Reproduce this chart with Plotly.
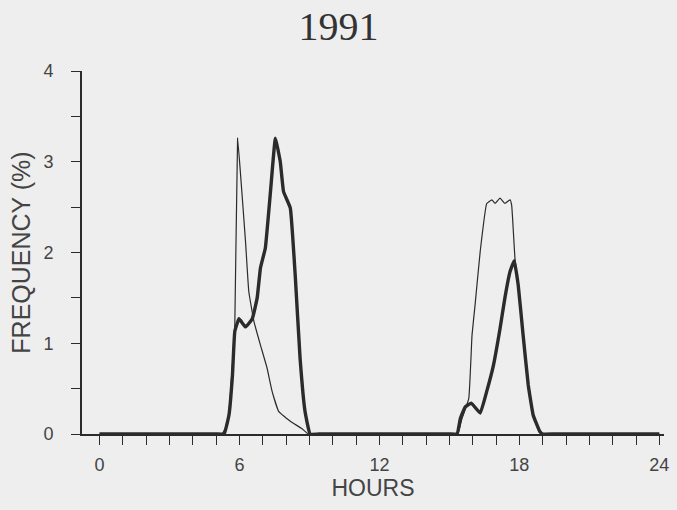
import plotly.graph_objects as go

# hours of day, 1991 survey
thin_hours = [0, 1, 2, 3, 4, 5, 5.25, 5.5, 5.8, 5.92, 6.05, 6.26, 6.4, 6.62, 6.9, 7.18, 7.4, 7.68, 8.18, 8.67, 8.95,
              9.5, 10, 11, 12, 13, 14, 15, 15.3, 15.4, 15.54, 15.83, 15.97, 16.1, 16.32, 16.6, 16.82, 16.96,
              17.17, 17.38, 17.6, 17.67, 17.81, 17.95, 18.16, 18.38, 18.59, 18.87, 19.0, 19.5, 20, 21, 22, 23, 24]
thin_freq = [0, 0, 0, 0, 0, 0, 0, 0.12, 1.2, 3.26, 2.85, 2.12, 1.57, 1.24, 0.98, 0.73, 0.47, 0.25, 0.14, 0.06, 0,
             0, 0, 0, 0, 0, 0, 0, 0, 0.03, 0.17, 0.39, 1.09, 1.42, 2.01, 2.54, 2.58, 2.54,
             2.6, 2.54, 2.58, 2.52, 1.94, 1.64, 1.09, 0.54, 0.21, 0.03, 0, 0, 0, 0, 0, 0, 0]

thick_hours = [0, 1, 2, 3, 4, 5, 5.34, 5.55, 5.7, 5.8, 5.98, 6.26, 6.55, 6.76, 6.9, 7.11, 7.33, 7.54, 7.75, 7.89,
               8.18, 8.39, 8.6, 8.81, 9.03, 9.5, 10, 11, 12, 13, 14, 15,
               15.33, 15.47, 15.68, 15.94, 16.32, 16.6, 16.89, 17.17, 17.38, 17.6, 17.78, 17.95,
               18.16, 18.38, 18.59, 18.87, 19.0, 19.5, 20, 21, 22, 23, 24]
thick_freq = [0, 0, 0, 0, 0, 0, 0, 0.21, 0.65, 1.13, 1.27, 1.18, 1.27, 1.5, 1.83, 2.05, 2.67, 3.26, 3.0, 2.67,
              2.49, 1.75, 0.83, 0.25, 0, 0, 0, 0, 0, 0, 0, 0,
              0, 0.17, 0.3, 0.34, 0.23, 0.47, 0.76, 1.16, 1.5, 1.79, 1.91, 1.64,
              1.09, 0.54, 0.21, 0.03, 0, 0, 0, 0, 0, 0, 0]

ink = "#2b2b2b"
paper = "#eeeeee"

fig = go.Figure()
fig.add_trace(go.Scatter(x=thin_hours, y=thin_freq, mode="lines",
                         line=dict(color=ink, width=1.2, shape="spline", smoothing=0.3),
                         showlegend=False))
fig.add_trace(go.Scatter(x=thick_hours, y=thick_freq, mode="lines",
                         line=dict(color=ink, width=3.4, shape="spline", smoothing=0.3),
                         showlegend=False))

fig.update_layout(
    width=677, height=510,
    margin=dict(l=82, r=8, t=71, b=76),
    paper_bgcolor=paper, plot_bgcolor=paper,
    title=dict(text="1991", x=0.5, xanchor="center", y=0.95, yanchor="middle",
               font=dict(family="Liberation Serif", size=40, color="#333333")),
    font=dict(family="Liberation Sans", size=18, color="#444444"),
)
fig.update_xaxes(
    range=[-0.75, 24.2], tickmode="linear", tick0=0, dtick=6,
    ticks="outside", ticklen=9, tickwidth=1.3, tickcolor=ink,
    minor=dict(dtick=1, ticks="outside", ticklen=9, tickwidth=1.3, tickcolor=ink),
    showline=True, linecolor=ink, linewidth=1.6,
    showgrid=False, zeroline=False, ticklabelstandoff=5,
    title=dict(text="HOURS", font=dict(size=23), standoff=5),
)
fig.update_yaxes(
    range=[0, 4], tickmode="linear", tick0=0, dtick=1,
    ticks="outside", ticklen=9, tickwidth=1.3, tickcolor=ink,
    minor=dict(dtick=0.5, ticks="outside", ticklen=9, tickwidth=1.3, tickcolor=ink),
    showline=True, linecolor=ink, linewidth=1.6,
    showgrid=False, zeroline=False, ticklabelstandoff=14,
    title=dict(text="FREQUENCY (%)", font=dict(size=25), standoff=6),
)

fig.write_html("out.html", config={"displayModeBar": False},
               post_script="document.body.style.margin='0px';")
